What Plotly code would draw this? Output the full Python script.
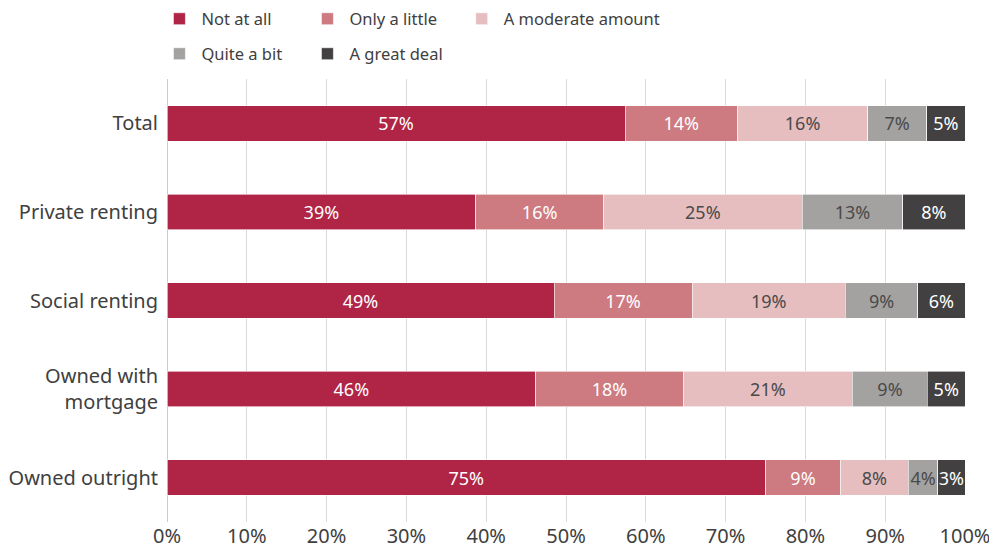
import plotly.graph_objects as go

categories = ["Total", "Private renting", "Social renting", "Owned with<br>mortgage", "Owned outright"]
series_names = ["Not at all", "Only a little", "A moderate amount", "Quite a bit", "A great deal"]

not_at_all = [57.4, 38.7, 48.5, 46.2, 75.0]
only_a_little = [14.1, 16.0, 17.3, 18.5, 9.4]
moderate = [16.3, 24.9, 19.2, 21.2, 8.5]
quite_a_bit = [7.4, 12.6, 9.1, 9.4, 3.7]
great_deal = [4.8, 7.8, 5.9, 4.7, 3.4]

labels_not_at_all = ["57%", "39%", "49%", "46%", "75%"]
labels_only_a_little = ["14%", "16%", "17%", "18%", "9%"]
labels_moderate = ["16%", "25%", "19%", "21%", "8%"]
labels_quite_a_bit = ["7%", "13%", "9%", "9%", "4%"]
labels_great_deal = ["5%", "8%", "6%", "5%", "3%"]

x_ticks = [0, 10, 20, 30, 40, 50, 60, 70, 80, 90, 100]
x_tick_labels = [f"{v}%" for v in x_ticks]

colors = ["#B02546", "#CD7A80", "#E6BEC0", "#A3A2A0", "#424040"]
text_colors = ["#FFFFFF", "#FFFFFF", "#4A4A4A", "#4A4A4A", "#FFFFFF"]
values = [not_at_all, only_a_little, moderate, quite_a_bit, great_deal]
labels = [labels_not_at_all, labels_only_a_little, labels_moderate, labels_quite_a_bit, labels_great_deal]
legends = ["legend", "legend", "legend3", "legend2", "legend2"]

FONT = "Noto Sans"
W, H = 989, 540  # page body adds an 8px offset

fig = go.Figure()
for name, vals, lab, col, tcol, lg in zip(series_names, values, labels, colors, text_colors, legends):
    fig.add_trace(go.Bar(
        name=name, y=categories, x=vals, orientation="h",
        marker=dict(color=col, line=dict(color="white", width=0.6)),
        text=lab, textposition="inside", insidetextanchor="middle",
        textangle=0, constraintext="none",
        textfont=dict(family=FONT, size=18, color=tcol),
        legend=lg, hoverinfo="skip",
    ))

def legend_cfg(x, y, entrywidth):
    cfg = dict(
        orientation="h", xref="paper", yref="container", xanchor="left", yanchor="middle",
        x=x, y=y,
        font=dict(family=FONT, size=16.5, color="#404040"),
        itemwidth=34, traceorder="normal", bgcolor="rgba(0,0,0,0)", itemclick=False,
    )
    if entrywidth:
        cfg["entrywidth"] = entrywidth
        cfg["entrywidthmode"] = "pixels"
    return cfg

row1_y = 1 - 11 / H
row2_y = 1 - 46 / H

fig.update_layout(
    width=W, height=H,
    margin=dict(l=159, r=32, t=71, b=26, autoexpand=False),
    paper_bgcolor="white", plot_bgcolor="white",
    barmode="stack", bargap=0.6,
    showlegend=True,
    legend=legend_cfg(-0.012, row1_y, 99),
    legend3=legend_cfg(0.3668, row1_y, 0),
    legend2=legend_cfg(-0.012, row2_y, 99),
    xaxis=dict(
        range=[0, 100], tickvals=x_ticks, ticktext=x_tick_labels,
        showgrid=True, gridcolor="#D9D9D9", gridwidth=1,
        zeroline=True, zerolinecolor="#CCCCCC", zerolinewidth=1,
        tickfont=dict(family=FONT, size=20, color="#404040"),
        ticklabeloverflow="allow",
        fixedrange=True,
    ),
    yaxis=dict(
        autorange="reversed", ticklabelstandoff=8,
        tickfont=dict(family=FONT, size=20, color="#404040"),
        showgrid=False, fixedrange=True,
    ),
)

fig.write_html("out.html")
